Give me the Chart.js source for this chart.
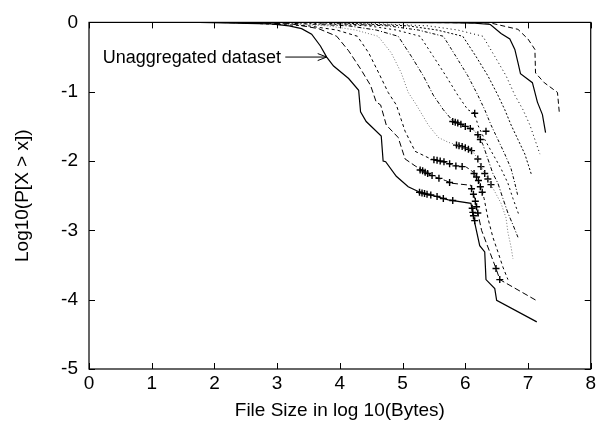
<!DOCTYPE html>
<html>
<head>
<meta charset="utf-8">
<script src="https://cdn.jsdelivr.net/npm/chart.js@4/dist/chart.umd.min.js"></script>
<style>
  html, body { margin: 0; padding: 0; background: #fff; }
  #wrap { width: 599px; height: 424px; }
</style>
</head>
<body>
<div id="wrap"><canvas id="ccdf" width="599" height="424"></canvas></div>
<script>
// Axis ticks
const xTicks = [0, 1, 2, 3, 4, 5, 6, 7, 8];
const yTicks = [-5, -4, -3, -2, -1, 0];

// CCDF curves: [log10(size), log10(P[X > x])]
const series1 = [[0.49,0],[1.76,0],[2.90,-0.02],[3.19,-0.05],[3.39,-0.09],[3.55,-0.17],[3.69,-0.34],[3.79,-0.50],[3.90,-0.63],[4.14,-0.81],[4.30,-0.98],[4.33,-1.29],[4.42,-1.43],[4.66,-1.64],[4.69,-2.00],[4.73,-2.01],[4.90,-2.22],[5.09,-2.37],[5.25,-2.44],[5.73,-2.56],[6.09,-2.61],[6.15,-2.89],[6.23,-3.22],[6.31,-3.31],[6.33,-3.71],[6.47,-3.84],[6.50,-4.01],[7.14,-4.32]];
const series2 = [[0.8,0],[2.0,0],[3.22,-0.02],[3.66,-0.09],[3.95,-0.20],[4.14,-0.41],[4.33,-0.67],[4.49,-0.91],[4.58,-1.15],[4.65,-1.19],[4.74,-1.48],[4.93,-1.66],[5.04,-1.97],[5.20,-2.07],[5.33,-2.14],[5.46,-2.21],[5.68,-2.28],[5.78,-2.32],[6.09,-2.35],[6.15,-2.54],[6.20,-2.75],[6.26,-3.00],[6.36,-3.24],[6.49,-3.55],[6.55,-3.71],[7.15,-4.02]];
const series3 = [[1.1,0],[2.3,0],[3.50,-0.05],[3.95,-0.11],[4.28,-0.20],[4.46,-0.44],[4.62,-0.73],[4.77,-1.01],[4.90,-1.19],[5.04,-1.57],[5.20,-1.86],[5.45,-1.97],[5.61,-2.00],[5.84,-2.07],[6.00,-2.08],[6.09,-2.13],[6.17,-2.21],[6.23,-2.32],[6.30,-2.54],[6.36,-2.82],[6.44,-3.10],[6.52,-3.31],[6.60,-3.53],[6.68,-3.71]];
const series4 = [[1.4,0],[2.6,0],[3.82,-0.05],[4.25,-0.11],[4.61,-0.20],[4.82,-0.44],[4.98,-0.73],[5.09,-1.01],[5.22,-1.19],[5.41,-1.48],[5.57,-1.66],[5.73,-1.73],[5.88,-1.77],[6.00,-1.81],[6.12,-1.86],[6.20,-1.97],[6.31,-2.18],[6.44,-2.39],[6.57,-2.61],[6.65,-2.82],[6.68,-3.03],[6.73,-3.24],[6.76,-3.41]];
const series5 = [[1.7,0],[2.9,0],[4.14,-0.05],[4.58,-0.11],[4.93,-0.20],[5.14,-0.49],[5.33,-0.77],[5.49,-1.05],[5.65,-1.26],[5.81,-1.43],[5.97,-1.49],[6.13,-1.55],[6.20,-1.62],[6.28,-1.76],[6.36,-1.97],[6.44,-2.18],[6.52,-2.32],[6.60,-2.54],[6.68,-2.75],[6.76,-2.92],[6.84,-3.10]];
const series6 = [[2.0,0],[3.2,0],[4.46,-0.05],[4.90,-0.11],[5.28,-0.20],[5.49,-0.49],[5.69,-0.77],[5.88,-1.05],[6.04,-1.26],[6.15,-1.31],[6.20,-1.48],[6.31,-1.69],[6.44,-1.90],[6.57,-2.11],[6.68,-2.32],[6.76,-2.54],[6.86,-2.79]];
const series7 = [[2.3,0],[3.5,0],[4.77,-0.05],[5.25,-0.11],[5.65,-0.20],[5.85,-0.49],[6.04,-0.77],[6.20,-1.05],[6.31,-1.26],[6.41,-1.48],[6.52,-1.69],[6.63,-1.90],[6.73,-2.11],[6.79,-2.32],[6.84,-2.51]];
const series8 = [[2.6,0],[3.8,0],[5.09,-0.05],[5.55,-0.11],[5.96,-0.20],[6.17,-0.49],[6.36,-0.77],[6.52,-1.05],[6.63,-1.26],[6.73,-1.48],[6.84,-1.69],[6.95,-1.90],[7.01,-2.07],[7.06,-2.21]];
const series9 = [[2.9,0],[4.1,0],[5.41,-0.05],[5.88,-0.11],[6.28,-0.20],[6.47,-0.49],[6.65,-0.77],[6.79,-1.05],[6.92,-1.26],[7.03,-1.48],[7.11,-1.69],[7.19,-1.90]];
const series10 = [[3.2,0],[4.4,0],[5.75,-0.005],[6.15,-0.01],[6.40,-0.03],[6.57,-0.16],[6.71,-0.24],[6.79,-0.39],[6.84,-0.58],[6.88,-0.74],[7.07,-0.87],[7.15,-1.15],[7.23,-1.33],[7.28,-1.59]];
const series11 = [[3.5,0],[4.7,0],[6.0,-0.005],[6.41,-0.01],[6.84,-0.10],[7.00,-0.24],[7.11,-0.39],[7.12,-0.73],[7.26,-0.87],[7.47,-1.01],[7.50,-1.31]];

// Sample points drawn as crosses
const crossMarks = [
  [5.27,-2.45],[5.31,-2.46],[5.35,-2.47],[5.39,-2.48],[5.45,-2.49],[5.55,-2.51],[5.65,-2.54],[5.80,-2.57],
  [6.11,-2.68],[6.12,-2.74],[6.13,-2.79],[6.15,-2.86],
  [5.28,-2.13],[5.32,-2.14],[5.36,-2.16],[5.40,-2.18],[5.47,-2.21],[5.58,-2.25],[5.75,-2.31],
  [6.10,-2.40],[6.13,-2.48],[6.16,-2.58],[6.18,-2.66],[6.20,-2.75],[6.49,-3.55],[6.55,-3.71],
  [5.50,-1.98],[5.55,-1.99],[5.60,-2.00],[5.66,-2.01],[5.75,-2.04],[5.85,-2.07],[5.95,-2.08],
  [6.14,-2.18],[6.18,-2.23],[6.21,-2.28],[6.24,-2.37],[6.27,-2.45],
  [5.86,-1.77],[5.90,-1.78],[5.95,-1.79],[6.00,-1.81],[6.05,-1.83],[6.10,-1.85],
  [6.20,-1.97],[6.25,-2.08],[6.31,-2.18],[6.36,-2.26],[6.41,-2.34],
  [5.80,-1.43],[5.84,-1.44],[5.88,-1.45],[5.93,-1.47],[6.00,-1.50],[6.08,-1.53],
  [6.20,-1.62],[6.24,-1.69],[6.33,-1.57],[6.15,-1.31]
];

// Arrow label pointing at the unaggregated curve
const labelText = 'Unaggregated dataset';
const labelEndX = 3.06;
const arrowFrom = [3.13, -0.50];
const arrowTo = [3.79, -0.50];

const lineStyles = [
  { dash: [],            color: '#000', width: 1.2 },
  { dash: [6, 3],        color: '#000', width: 1 },
  { dash: [3, 3],        color: '#000', width: 1 },
  { dash: [1, 2],        color: '#777', width: 1 },
  { dash: [4, 2, 1, 2],  color: '#000', width: 1 },
  { dash: [2, 3],        color: '#000', width: 1 },
  { dash: [3, 2, 1, 2],  color: '#000', width: 1 },
  { dash: [2, 2],        color: '#000', width: 1 },
  { dash: [1, 3],        color: '#000', width: 1 },
  { dash: [],            color: '#000', width: 1.2 },
  { dash: [5, 3],        color: '#000', width: 1 }
];

const seriesList = [series1, series2, series3, series4, series5, series6, series7, series8, series9, series10, series11];
const toPts = arr => arr.map(([x, y]) => ({ x, y }));

const datasets = seriesList.map((s, i) => ({
  data: toPts(s),
  showLine: true,
  borderColor: lineStyles[i].color,
  borderDash: lineStyles[i].dash,
  borderWidth: lineStyles[i].width,
  pointRadius: 0,
  pointHoverRadius: 0,
  tension: 0,
  fill: false
}));
datasets.push({
  data: toPts(crossMarks),
  showLine: false,
  pointStyle: 'cross',
  pointRadius: 3.5,
  borderColor: '#000',
  borderWidth: 1.4,
  backgroundColor: '#000'
});

const FONT = '"Liberation Sans", Arial, Helvetica, sans-serif';

// Frame with inward ticks on all four sides, plus the arrow label
const framePlugin = {
  id: 'frame',
  afterDatasetsDraw(chart) {
    const { ctx, chartArea: a, scales: { x, y } } = chart;
    ctx.save();
    ctx.strokeStyle = '#000';
    ctx.lineWidth = 1.2;
    ctx.setLineDash([]);
    ctx.strokeRect(a.left, a.top, a.right - a.left, a.bottom - a.top);
    const tl = 6;
    ctx.lineWidth = 1;
    ctx.beginPath();
    xTicks.forEach(v => {
      const px = Math.round(x.getPixelForValue(v)) + 0.5;
      ctx.moveTo(px, a.bottom); ctx.lineTo(px, a.bottom - tl);
      ctx.moveTo(px, a.top); ctx.lineTo(px, a.top + tl);
    });
    yTicks.forEach(v => {
      const py = Math.round(y.getPixelForValue(v)) + 0.5;
      ctx.moveTo(a.left, py); ctx.lineTo(a.left + tl, py);
      ctx.moveTo(a.right, py); ctx.lineTo(a.right - tl, py);
    });
    ctx.stroke();

    // label + arrow
    const ty = y.getPixelForValue(arrowFrom[1]);
    ctx.fillStyle = '#000';
    ctx.font = '18px ' + FONT;
    ctx.textAlign = 'right';
    ctx.textBaseline = 'middle';
    ctx.fillText(labelText, x.getPixelForValue(labelEndX), ty + 1);
    const x0 = x.getPixelForValue(arrowFrom[0]);
    const x1 = x.getPixelForValue(arrowTo[0]);
    const y1 = y.getPixelForValue(arrowTo[1]);
    ctx.beginPath();
    ctx.moveTo(x0, ty); ctx.lineTo(x1, y1);
    ctx.moveTo(x1 - 9, y1 - 3.5); ctx.lineTo(x1, y1); ctx.lineTo(x1 - 9, y1 + 3.5);
    ctx.stroke();
    ctx.restore();
  }
};

new Chart(document.getElementById('ccdf'), {
  type: 'scatter',
  data: { datasets },
  options: {
    responsive: false,
    animation: false,
    events: [],
    layout: { padding: { top: 16, right: 6, left: 0, bottom: 0 } },
    plugins: { legend: { display: false }, tooltip: { enabled: false } },
    scales: {
      x: {
        type: 'linear', min: 0, max: 8,
        border: { display: false },
        grid: { display: false, drawTicks: false },
        afterFit: s => { s.height = 55; },
        afterBuildTicks: s => { s.ticks = xTicks.map(v => ({ value: v })); },
        ticks: { autoSkip: false, maxRotation: 0, padding: 3, color: '#000', font: { family: FONT, size: 19 } },
        title: { display: true, text: 'File Size in log 10(Bytes)', color: '#000', padding: { top: 0, bottom: 2 }, font: { family: FONT, size: 19 } }
      },
      y: {
        type: 'linear', min: -5, max: 0,
        border: { display: false },
        grid: { display: false, drawTicks: false },
        afterFit: s => { s.width = 89; },
        afterBuildTicks: s => { s.ticks = yTicks.map(v => ({ value: v })); },
        ticks: { autoSkip: false, padding: 11, color: '#000', font: { family: FONT, size: 19 } },
        title: { display: true, text: 'Log10(P[X > x])', color: '#000', padding: { top: 11, bottom: 0 }, font: { family: FONT, size: 19 } }
      }
    }
  },
  plugins: [framePlugin]
});
</script>
</body>
</html>
